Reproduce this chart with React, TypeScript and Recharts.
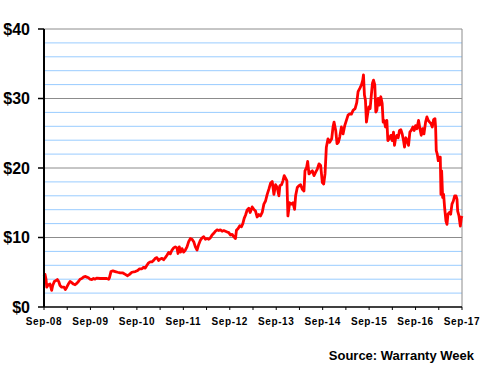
import React from 'react';
import { LineChart, Line, XAxis, YAxis, ReferenceLine } from 'recharts';

// months since Sep-08
const months = [
  0, 0.26, 0.52, 0.7, 1.12, 1.55, 1.99, 2.25, 2.67, 3.1, 3.45, 3.8, 4.14, 4.58, 5.18, 5.52, 5.88,
  6.29, 6.73, 7.17, 7.6, 8.03, 8.46, 8.9, 9.32, 9.76, 10.2, 10.6, 11.06, 11.5, 11.9, 12.35, 12.8,
  13.2, 13.6, 14.5, 15.4, 16.2, 16.7, 16.9, 17.3, 17.8, 18.4, 19.0, 19.7, 20.4, 21.0, 21.6, 22.1,
  22.7, 23.6, 24.2, 24.7, 25.3, 25.7, 26.16, 26.59, 27.02, 27.45, 27.89, 28.32, 28.75, 29.18, 29.61,
  30.04, 30.48, 30.91, 31.34, 31.77, 32.2, 32.63, 33.07, 33.5, 33.93, 34.36, 34.62, 34.96, 35.31,
  35.66, 36.09, 36.52, 36.95, 37.38, 37.81, 38.25, 38.68, 39.11, 39.54, 39.97, 40.4, 40.84, 41.27,
  41.7, 42.13, 42.56, 42.99, 43.43, 43.86, 44.29, 44.72, 45.15, 45.58, 46.02, 46.45, 46.88, 47.31,
  47.74, 48.17, 48.61, 49.04, 49.47, 49.73, 50.16, 50.59, 51.02, 51.37, 51.72, 52.06, 52.49, 52.92,
  53.27, 53.79, 54.22, 54.65, 55.08, 55.51, 55.94, 56.38, 56.81, 57.24, 57.67, 58.1, 58.53, 58.97,
  59.4, 59.83, 60.26, 60.69, 60.95, 61.38, 61.73, 62.07, 62.42, 62.76, 63.02, 63.46, 63.89, 64.32,
  64.75, 65.01, 65.44, 65.87, 66.3, 66.74, 67.17, 67.43, 67.86, 68.12, 68.46, 68.89, 69.33, 69.76,
  70.19, 70.62, 71.05, 71.48, 71.92, 72.26, 72.61, 72.95, 73.38, 73.81, 74.33, 74.68, 74.94, 75.37,
  75.71, 76.06, 76.4, 76.84, 77.27, 77.7, 78.13, 78.56, 78.99, 79.42, 79.86, 80.38, 80.81, 81.15,
  81.59, 82.02, 82.36, 82.54, 82.79, 83.05, 83.31, 83.57, 83.92, 84.26, 84.61, 84.87, 85.13, 85.47,
  85.73, 85.99, 86.33, 86.68, 87.02, 87.37, 87.63, 87.89, 88.23, 88.58, 88.84, 89.18, 89.61, 89.96,
  90.3, 90.56, 90.82, 91.17, 91.51, 91.85, 92.2, 92.55, 92.89, 93.15, 93.5, 93.84, 94.19, 94.53,
  94.88, 95.31, 95.66, 96.0, 96.35, 96.78, 97.13, 97.47, 97.82, 98.16, 98.59, 98.94, 99.28, 99.63,
  99.97, 100.32, 100.66, 101.01, 101.18, 101.35, 101.61, 101.87, 102.13, 102.39, 102.56, 102.74,
  103.0, 103.25, 103.51, 103.86, 104.12, 104.38, 104.72, 105.07, 105.41, 105.76, 106.11, 106.45,
  106.71, 106.88, 107.22, 107.57, 107.83, 108,
];

const prices = [
  4.4, 4.7, 4.0, 2.85, 3.2, 3.3, 2.4, 3.1, 3.67, 3.8, 3.95, 3.67, 3.1, 2.85, 2.85, 2.5, 2.85,
  3.3, 3.67, 3.5, 3.3, 3.2, 3.4, 3.67, 4.0, 4.1, 4.3, 4.4, 4.3, 4.2, 4.0, 3.95, 4.1,
  4.0, 4.15, 4.1, 4.1, 4.1, 4.0, 4.2, 5.1, 5.2, 5.1, 5.0, 4.9, 4.9, 4.7, 4.5, 4.7,
  5.0, 5.1, 5.25, 5.5, 5.5, 5.7, 5.6, 6.0, 6.35, 6.5, 6.5, 6.7, 7.0, 7.1, 6.7,
  6.9, 7.0, 6.8, 7.1, 7.45, 7.85, 7.65, 8.2, 8.5, 8.65, 8.5, 7.7, 8.65, 7.9,
  8.4, 7.9, 8.2, 8.65, 9.4, 9.85, 9.75, 9.4, 8.65, 8.2, 9.0, 9.6, 9.95, 10.1,
  9.75, 9.85, 9.75, 9.95, 10.35, 10.6, 10.9, 11.1, 11.0, 11.1, 10.9, 11.0, 10.9, 10.8,
  10.7, 10.35, 10.45, 10.1, 9.85, 11.05, 11.3, 11.7, 11.55, 12.0, 12.75, 13.2, 13.95, 14.2,
  13.6, 14.4, 14.05, 13.8, 12.95, 13.3, 13.1, 13.6, 14.8, 15.25, 16.2, 16.95, 17.8, 18.05,
  16.2, 17.6, 17.2, 16.0, 17.45, 17.6, 18.15, 18.9, 18.55, 18.15, 13.1, 15.0, 14.8, 15.0,
  14.05, 16.0, 17.2, 17.45, 17.6, 16.95, 16.7, 19.6, 20.1, 20.95, 19.15, 19.4, 19.6, 18.9,
  19.4, 19.85, 20.6, 20.35, 17.9, 17.7, 19.15, 23.0, 24.2, 23.7, 24.2, 25.9, 26.6, 25.4,
  23.5, 23.7, 24.45, 25.9, 24.9, 26.1, 26.85, 27.6, 27.8, 27.75, 28.3, 28.55, 29.4, 31.0,
  31.45, 31.95, 32.65, 33.4, 30.5, 29.75, 26.6, 27.6, 28.8, 28.55, 30.7, 32.2, 32.65, 31.95,
  28.05, 28.3, 30.0, 29.05, 30.25, 29.3, 26.6, 26.85, 25.9, 26.85, 23.95, 24.2, 24.7, 23.95,
  25.15, 23.25, 24.2, 24.7, 24.35, 25.4, 25.5, 24.9, 23.95, 23.0, 24.35, 23.95, 23.25, 25.15,
  25.4, 25.9, 25.4, 26.1, 25.65, 26.85, 25.65, 24.7, 25.65, 24.9, 26.6, 27.35, 26.85, 26.6,
  26.4, 25.9, 26.95, 27.1, 25.9, 22.5, 22.0, 21.05, 21.55, 21.55, 16.2, 19.6,
  15.75, 16.2, 14.3, 12.35, 11.9, 13.35, 13.6, 13.35, 14.8, 15.25, 16.0, 16.0,
  15.5, 13.8, 13.1, 11.65, 12.85, 13.1,
];

const yearLabels = ['Sep-08', 'Sep-09', 'Sep-10', 'Sep-11', 'Sep-12', 'Sep-13', 'Sep-14', 'Sep-15', 'Sep-16', 'Sep-17'];
const halfYearTicks = [0, 6, 12, 18, 24, 30, 36, 42, 48, 54, 60, 66, 72, 78, 84, 90, 96, 102, 108];
const yTicks = [0, 10, 20, 30, 40];
const minorGrid = [2, 4, 6, 8, 12, 14, 16, 18, 22, 24, 26, 28, 32, 34, 36, 38];
const majorGrid = [10, 20, 30, 40];
const sourceText = 'Source: Warranty Week';

const data = months.map((m, i) => ({ m, price: prices[i] }));

const FONT = '"Liberation Sans", Arial, sans-serif';

export default function App() {
  return (
    <div style={{ position: 'absolute', left: 0, top: 0, width: 480, height: 380, background: '#fff', fontFamily: FONT }}>
      <LineChart width={480} height={380} data={data} margin={{ top: 29, right: 18, bottom: 43, left: 0 }}>
        {minorGrid.map((v) => (
          <ReferenceLine key={'mi' + v} y={v} stroke="#99CCFF" strokeWidth={1} />
        ))}
        {majorGrid.map((v) => (
          <ReferenceLine key={'ma' + v} y={v} stroke="#8C8C8C" strokeWidth={1} />
        ))}
        <ReferenceLine x={108} stroke="#8C8C8C" strokeWidth={1} />
        <XAxis
          dataKey="m"
          type="number"
          domain={[0, 108]}
          ticks={halfYearTicks}
          interval={0}
          height={30}
          tickFormatter={(v: number) => (v % 12 === 0 ? yearLabels[v / 12] : '')}
          axisLine={{ stroke: '#000', strokeWidth: 1.5 }}
          tickLine={{ stroke: '#000', strokeWidth: 1 }}
          tickSize={3}
          tickMargin={8}
          tick={{ fontSize: 10, fontWeight: 'bold', fill: '#000', fontFamily: FONT, letterSpacing: 0.6 }}
        />
        <YAxis
          type="number"
          domain={[0, 40]}
          ticks={yTicks}
          width={44}
          tickFormatter={(v: number) => `$${v}`}
          axisLine={{ stroke: '#000', strokeWidth: 2 }}
          tickLine={{ stroke: '#000', strokeWidth: 1.5 }}
          tickSize={6}
          tickMargin={8}
          tick={{ fontSize: 16, fontWeight: 'bold', fill: '#000', fontFamily: FONT }}
        />
        <Line
          type="linear"
          dataKey="price"
          stroke="#FF0000"
          strokeWidth={2.8}
          dot={false}
          isAnimationActive={false}
          strokeLinejoin="round"
        />
      </LineChart>
      <svg width={480} height={380} style={{ position: 'absolute', left: 0, top: 0, pointerEvents: 'none' }}>
        <text x={474} y={360} textAnchor="end" fontSize={13} fontWeight="bold" fill="#000" fontFamily={FONT}>
          {sourceText}
        </text>
      </svg>
    </div>
  );
}
